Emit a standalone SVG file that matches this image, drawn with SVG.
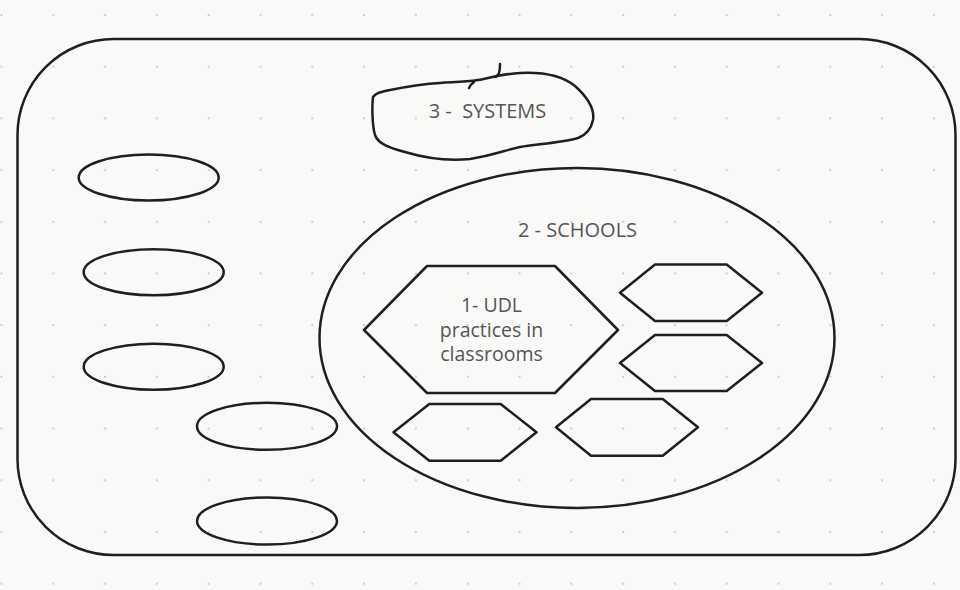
<svg xmlns="http://www.w3.org/2000/svg" width="960" height="590" viewBox="0 0 960 590">
  <defs>
    <pattern id="dots" patternUnits="userSpaceOnUse" x="-24.4" y="-10.9" width="51.8" height="51.7">
      <circle cx="25.9" cy="25.85" r="1.1" fill="#c2c2c2"/>
    </pattern>
  </defs>
  <style>
    .ink { fill: none; stroke: #1f1f1f; stroke-width: 2.5; stroke-linejoin: round; stroke-linecap: round; }
    .lbl { font-family: "Open Sans", "Noto Sans", "Liberation Sans", sans-serif; font-size: 20px; fill: #555555; text-anchor: middle; }
    .hexlbl { font-size: 19.5px; }
  </style>

  <!-- canvas with dot grid -->
  <rect x="0" y="0" width="960" height="590" fill="#f9f9f8"/>
  <rect x="0" y="0" width="960" height="590" fill="url(#dots)"/>

  <!-- outer frame -->
  <g id="frame">
    <rect class="ink" x="17.5" y="39" width="938" height="516" rx="96" ry="96"/>
  </g>

  <!-- level 3: hand-drawn systems blob -->
  <g id="systems">
    <path class="ink" d="M 373,97 C 376,93 380,92 390,90 C 405,87 420,84 440,83 C 455,82 465,82 478,80 C 490,78 500,74 520,73 C 540,72 560,74 575,86 C 585,95 595,108 593,120 C 591,130 586,135 578,138 C 565,142 540,144 520,147 C 505,150 495,155 470,159 C 450,161 425,158 405,152 C 390,148 378,144 375,135 C 372,125 372,105 373,97 Z"/>
    <path class="ink" d="M 500,64 C 500,68 500,72 498,75 C 497,76 496,77 495,77"/>
    <path class="ink" d="M 469,88 Q 470,85 474,82"/>
    <text class="lbl" x="487.5" y="118">3 -&#160; SYSTEMS</text>
  </g>

  <!-- left-hand ovals -->
  <g id="oval-1"><ellipse class="ink" cx="148.7" cy="177.5" rx="70" ry="23"/></g>
  <g id="oval-2"><ellipse class="ink" cx="153.7" cy="272.2" rx="70" ry="23"/></g>
  <g id="oval-3"><ellipse class="ink" cx="153.7" cy="366.7" rx="70" ry="23"/></g>
  <g id="oval-4"><ellipse class="ink" cx="267" cy="426.3" rx="70" ry="23.5"/></g>
  <g id="oval-5"><ellipse class="ink" cx="267" cy="521" rx="70" ry="23.5"/></g>

  <!-- level 2: schools -->
  <g id="schools">
    <ellipse class="ink" cx="577" cy="338" rx="257.5" ry="170"/>
    <text class="lbl" x="577.5" y="237">2 - SCHOOLS</text>
  </g>

  <!-- level 1: classroom practices -->
  <g id="udl">
    <polygon class="ink" points="364,330 427,266 555,266 618,330 555,393 427,393"/>
    <text class="lbl hexlbl" x="491.5" y="312">1- UDL</text>
    <text class="lbl hexlbl" x="491.5" y="337">practices in</text>
    <text class="lbl hexlbl" x="491.5" y="361">classrooms</text>
  </g>

  <g id="hex-a"><polygon class="ink" points="620,292.7 655,264.5 726.7,264.5 762,292.7 726.7,321 655,321"/></g>
  <g id="hex-b"><polygon class="ink" points="620,363 655,335 726.7,335 762,363 726.7,391 655,391"/></g>
  <g id="hex-c"><polygon class="ink" points="393.5,432.3 429.3,404 500.7,404 536.5,432.3 500.7,460.7 429.3,460.7"/></g>
  <g id="hex-d"><polygon class="ink" points="556,427.3 591,399 662.7,399 698,427.3 662.7,455.7 591,455.7"/></g>

  <!-- no connectors in this diagram -->
  <g id="connectors"/>
</svg>
